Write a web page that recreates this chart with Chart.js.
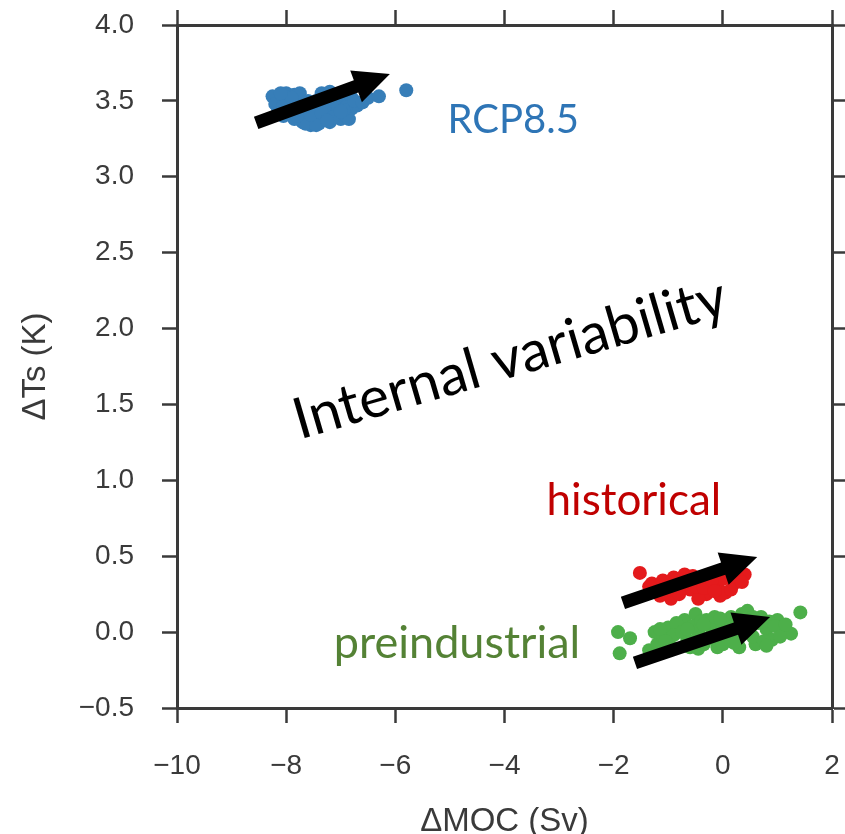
<!DOCTYPE html>
<html>
<head>
<meta charset="utf-8">
<script src="https://cdn.jsdelivr.net/npm/chart.js@4/dist/chart.umd.min.js"></script>
<style>
  html, body { margin: 0; padding: 0; background: #fff; }
  #wrap { width: 845px; height: 834px; }
</style>
</head>
<body>
<div id="wrap"><canvas id="scatter" width="845" height="834"></canvas></div>
<script>
// RCP8.5 ensemble members
const rcpX = [-8.25, -8.1, -8.0, -7.9, -7.85, -7.75, -8.15, -7.95, -7.7, -7.6, -7.7, -7.5, -7.55, -7.4, -7.3,
              -7.2, -7.1, -7.0, -6.9, -6.8, -7.35, -7.2, -7.0, -6.95, -6.8, -7.1, -7.4, -7.6, -6.7, -6.5,
              -6.3, -5.8, -7.5, -7.25, -6.85, -7.65, -8.05, -7.85, -7.45,
              -8.2, -8.05, -7.9, -7.8, -7.6, -7.45, -7.3, -7.15, -7.05, -6.9, -6.75, -7.55, -7.35, -7.15,
              -6.95, -7.8, -8.1, -7.25, -7.0, -6.6];
const rcpY = [3.53, 3.50, 3.55, 3.48, 3.54, 3.55, 3.45, 3.43, 3.47, 3.40, 3.36, 3.38, 3.34, 3.35, 3.40,
              3.36, 3.42, 3.38, 3.40, 3.45, 3.55, 3.56, 3.55, 3.50, 3.52, 3.48, 3.47, 3.50, 3.47, 3.52,
              3.53, 3.57, 3.45, 3.44, 3.38, 3.35, 3.40, 3.38, 3.34,
              3.48, 3.47, 3.52, 3.44, 3.45, 3.50, 3.46, 3.50, 3.45, 3.46, 3.50, 3.41, 3.42, 3.39,
              3.44, 3.40, 3.55, 3.37, 3.43, 3.49];

// historical ensemble members
const histX = [-1.52, -1.3, -1.2, -1.1, -1.0, -0.9, -0.85, -0.75, -0.6, -0.55, -0.4, -0.3, -0.25, -0.1,
               0.0, 0.1, 0.2, 0.3, 0.4, -0.7, -1.15, -0.45, 0.05, -0.95, 0.25,
               -1.25, -1.05, -0.8, -0.65, -0.5, -0.35, -0.2, -0.05, 0.15, 0.35, -1.35, -0.15];
const histY = [0.39, 0.32, 0.28, 0.34, 0.30, 0.36, 0.27, 0.32, 0.28, 0.37, 0.33, 0.25, 0.38, 0.30,
               0.35, 0.40, 0.32, 0.40, 0.38, 0.38, 0.24, 0.22, 0.26, 0.22, 0.36,
               0.27, 0.26, 0.25, 0.33, 0.30, 0.29, 0.34, 0.24, 0.28, 0.33, 0.30, 0.27];

// preindustrial control segments
const preX = [-1.92, -1.70, -1.89, -1.35, -1.2, -1.1, -1.0, -0.95, -0.8, -0.7, -0.65, -0.5, -0.45, -0.35,
              -0.3, -0.2, -0.1, 0.0, 0.05, 0.15, 0.25, 0.35, 0.45, 0.5, 0.6, 0.7, 0.8, 0.9, 1.0, 1.1,
              1.25, 1.42, -0.6, -0.15, 0.3, -1.25, -0.85,
              -1.15, -0.9, -0.75, -0.55, -0.4, -0.25, -0.05, 0.1, 0.2, 0.4, 0.55, 0.65, 0.75, 0.85,
              0.95, 1.05, 1.15, -1.05, -0.65, -0.35, 0.0, 0.25, 0.55, 0.8, -0.45, 0.15];
const preY = [0.0, -0.04, -0.14, -0.12, -0.08, -0.03, 0.03, -0.10, 0.05, 0.08, -0.05, 0.12, 0.0, -0.08,
              0.08, 0.02, -0.10, 0.05, -0.05, 0.10, -0.02, 0.12, 0.14, 0.03, -0.08, 0.10, 0.02, -0.05, 0.08, 0.0,
              -0.01, 0.13, -0.10, 0.10, -0.10, 0.0, 0.06,
              0.02, -0.02, 0.0, 0.04, 0.07, -0.04, 0.09, 0.01, -0.07, 0.05, -0.03, 0.06, -0.06, 0.07,
              0.04, -0.03, 0.05, -0.06, 0.02, 0.05, -0.08, 0.08, 0.10, -0.09, -0.11, 0.03];

const xTicks = [-10, -8, -6, -4, -2, 0, 2];
const yTicks = [-0.5, 0.0, 0.5, 1.0, 1.5, 2.0, 2.5, 3.0, 3.5, 4.0];

// arrows (tail -> tip) in data units
const arrowX0 = [-8.55, -1.83, -1.61];
const arrowY0 = [3.355, 0.192, -0.203];
const arrowX1 = [-6.10, 0.63, 0.865];
const arrowY1 = [3.677, 0.495, 0.10];

// text labels in data units
const noteText = ['RCP8.5', 'historical', 'preindustrial', 'Internal variability'];
const noteX = [-3.84, -1.63, -4.87, -3.9];
const noteY = [3.289, 0.772, -0.17, 1.80];

const toPts = (xs, ys) => xs.map((x, i) => ({ x: x, y: ys[i] }));
const minus = v => String(v).replace('-', '\u2212');

const axisColor = '#3a3a3a';
const tickFont = { family: 'Liberation Sans, Arial, sans-serif', size: 28 };
const titleFont = { family: 'Liberation Sans, Arial, sans-serif', size: 33 };

const annotations = {
    id: 'annotations',
    afterDatasetsDraw(chart) {
        const ctx = chart.ctx;
        const xs = chart.scales.x, ys = chart.scales.y;

        // arrows
        ctx.save();
        ctx.fillStyle = '#000';
        for (let i = 0; i < arrowX0.length; i++) {
            const x0 = xs.getPixelForValue(arrowX0[i]), y0 = ys.getPixelForValue(arrowY0[i]);
            const x1 = xs.getPixelForValue(arrowX1[i]), y1 = ys.getPixelForValue(arrowY1[i]);
            const len = Math.hypot(x1 - x0, y1 - y0);
            const ang = Math.atan2(y1 - y0, x1 - x0);
            const shaft = 6.5, head = 17, headLen = 36;
            ctx.save();
            ctx.translate(x0, y0);
            ctx.rotate(ang);
            ctx.beginPath();
            ctx.moveTo(0, -shaft);
            ctx.lineTo(len - headLen, -shaft);
            ctx.lineTo(len - headLen, -head);
            ctx.lineTo(len, 0);
            ctx.lineTo(len - headLen, head);
            ctx.lineTo(len - headLen, shaft);
            ctx.lineTo(0, shaft);
            ctx.closePath();
            ctx.fill();
            ctx.restore();
        }
        ctx.restore();

        // labels
        const styles = [
            { color: '#2e75b6', size: 40, rot: 0, base: 'alphabetic' },
            { color: '#c00000', size: 44, rot: 0, base: 'alphabetic' },
            { color: '#548235', size: 45, rot: 0, base: 'alphabetic' },
            { color: '#000000', size: 57, rot: -16.3, base: 'middle' }
        ];
        ctx.save();
        for (let i = 0; i < noteText.length; i++) {
            const s = styles[i];
            ctx.save();
            ctx.translate(xs.getPixelForValue(noteX[i]), ys.getPixelForValue(noteY[i]));
            ctx.rotate(s.rot * Math.PI / 180);
            ctx.font = s.size + 'px Lato, "Open Sans", sans-serif';
            ctx.fillStyle = s.color;
            ctx.textAlign = 'center';
            ctx.textBaseline = s.base;
            ctx.fillText(noteText[i], 0, 0);
            ctx.restore();
        }
        ctx.restore();
    }
};

const frameGrid = { drawOnChartArea: false, drawTicks: true, tickLength: 15, tickWidth: 2.5, color: axisColor };
const frameBorder = { display: true, color: axisColor, width: 3 };
const noPad = s => { s.paddingTop = 0; s.paddingBottom = 0; s.paddingLeft = 0; s.paddingRight = 0; };

new Chart(document.getElementById('scatter'), {
    type: 'scatter',
    data: {
        datasets: [
            { label: 'RCP8.5', data: toPts(rcpX, rcpY), backgroundColor: '#377eb8', borderWidth: 0, pointRadius: 7 },
            { label: 'historical', data: toPts(histX, histY), backgroundColor: '#e41a1c', borderWidth: 0, pointRadius: 7 },
            { label: 'preindustrial', data: toPts(preX, preY), backgroundColor: '#4daf4a', borderWidth: 0, pointRadius: 7 }
        ]
    },
    options: {
        responsive: false,
        animation: false,
        devicePixelRatio: 1,
        layout: { padding: 0 },
        plugins: { legend: { display: false }, tooltip: { enabled: false } },
        scales: {
            x: {
                type: 'linear', position: 'bottom', min: -10, max: 2,
                afterBuildTicks: s => { s.ticks = xTicks.map(v => ({ value: v })); },
                afterFit: s => { s.height = 126; noPad(s); },
                grid: frameGrid, border: frameBorder,
                ticks: { color: axisColor, font: tickFont, padding: 26, maxRotation: 0, callback: v => minus(v) },
                title: { display: true, text: '\u0394MOC (Sv)', color: axisColor, font: titleFont, padding: { top: 0, bottom: -8 } }
            },
            x2: {
                type: 'linear', position: 'top', min: -10, max: 2,
                afterBuildTicks: s => { s.ticks = xTicks.map(v => ({ value: v })); },
                afterFit: s => { s.height = 25; noPad(s); },
                grid: frameGrid, border: frameBorder,
                ticks: { display: false }
            },
            y: {
                type: 'linear', position: 'left', min: -0.5, max: 4.0,
                afterBuildTicks: s => { s.ticks = yTicks.map(v => ({ value: v })); },
                afterFit: s => { s.width = 177; noPad(s); },
                grid: frameGrid, border: frameBorder,
                ticks: { color: axisColor, font: tickFont, padding: 28, callback: v => minus(v.toFixed(1)) },
                title: { display: true, text: '\u0394Ts (K)', color: axisColor, font: titleFont, padding: { top: 16, bottom: 0 } }
            },
            y2: {
                type: 'linear', position: 'right', min: -0.5, max: 4.0,
                afterBuildTicks: s => { s.ticks = yTicks.map(v => ({ value: v })); },
                afterFit: s => { s.width = 13; noPad(s); },
                grid: frameGrid, border: frameBorder,
                ticks: { display: false }
            }
        }
    },
    plugins: [annotations]
});
</script>
</body>
</html>
